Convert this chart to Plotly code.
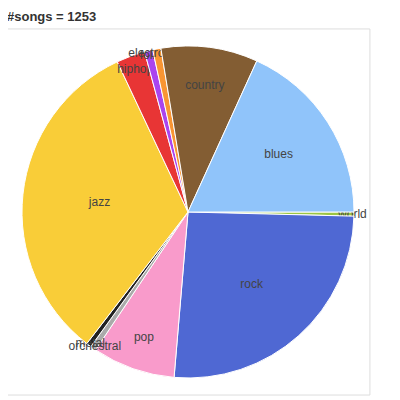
import plotly.graph_objects as go

genres = ['blues', 'country', 'electronica', 'folk', 'hiphop', 'jazz',
          'metal', 'orchestral', 'pop', 'rock', 'world']
songs = [228, 118, 10, 10, 35, 408, 6, 7, 101, 325, 5]
colors = ['#90c4fa', '#835d33', '#f99533', '#aa44ee', '#e83535', '#f9cd38',
          '#222222', '#aaaaaa', '#f99bcb', '#4f68d3', '#9cc543']

# orden inverso, en sentido horario desde las 3 en punto
fig = go.Figure(go.Pie(
    labels=genres[::-1], values=songs[::-1], sort=False,
    direction='clockwise', rotation=90,
    marker=dict(colors=colors[::-1], line=dict(color='white', width=1)),
    textinfo='label', textposition='inside',
    insidetextorientation='horizontal',
    textfont=dict(family='Arial', size=12, color='#444'),
    showlegend=False, hoverinfo='label+value',
))

# marco gris alrededor del pie
fig.add_shape(type='rect', xref='paper', yref='paper',
              x0=-0.0512, x1=1.048, y0=-0.048, y1=1.048,
              line=dict(color='#dddddd', width=1))

fig.add_annotation(text='<b>#songs = 1253</b>', xref='paper', yref='paper',
                   x=-0.0512, y=1.084, xanchor='left', yanchor='middle',
                   showarrow=False, font=dict(family='Arial', size=13, color='#333'))

fig.update_layout(width=400, height=400, paper_bgcolor='white',
                  margin=dict(l=14, r=54, t=37, b=29),
                  uniformtext=dict(minsize=12, mode='show'))

fig.write_html("out.html")
